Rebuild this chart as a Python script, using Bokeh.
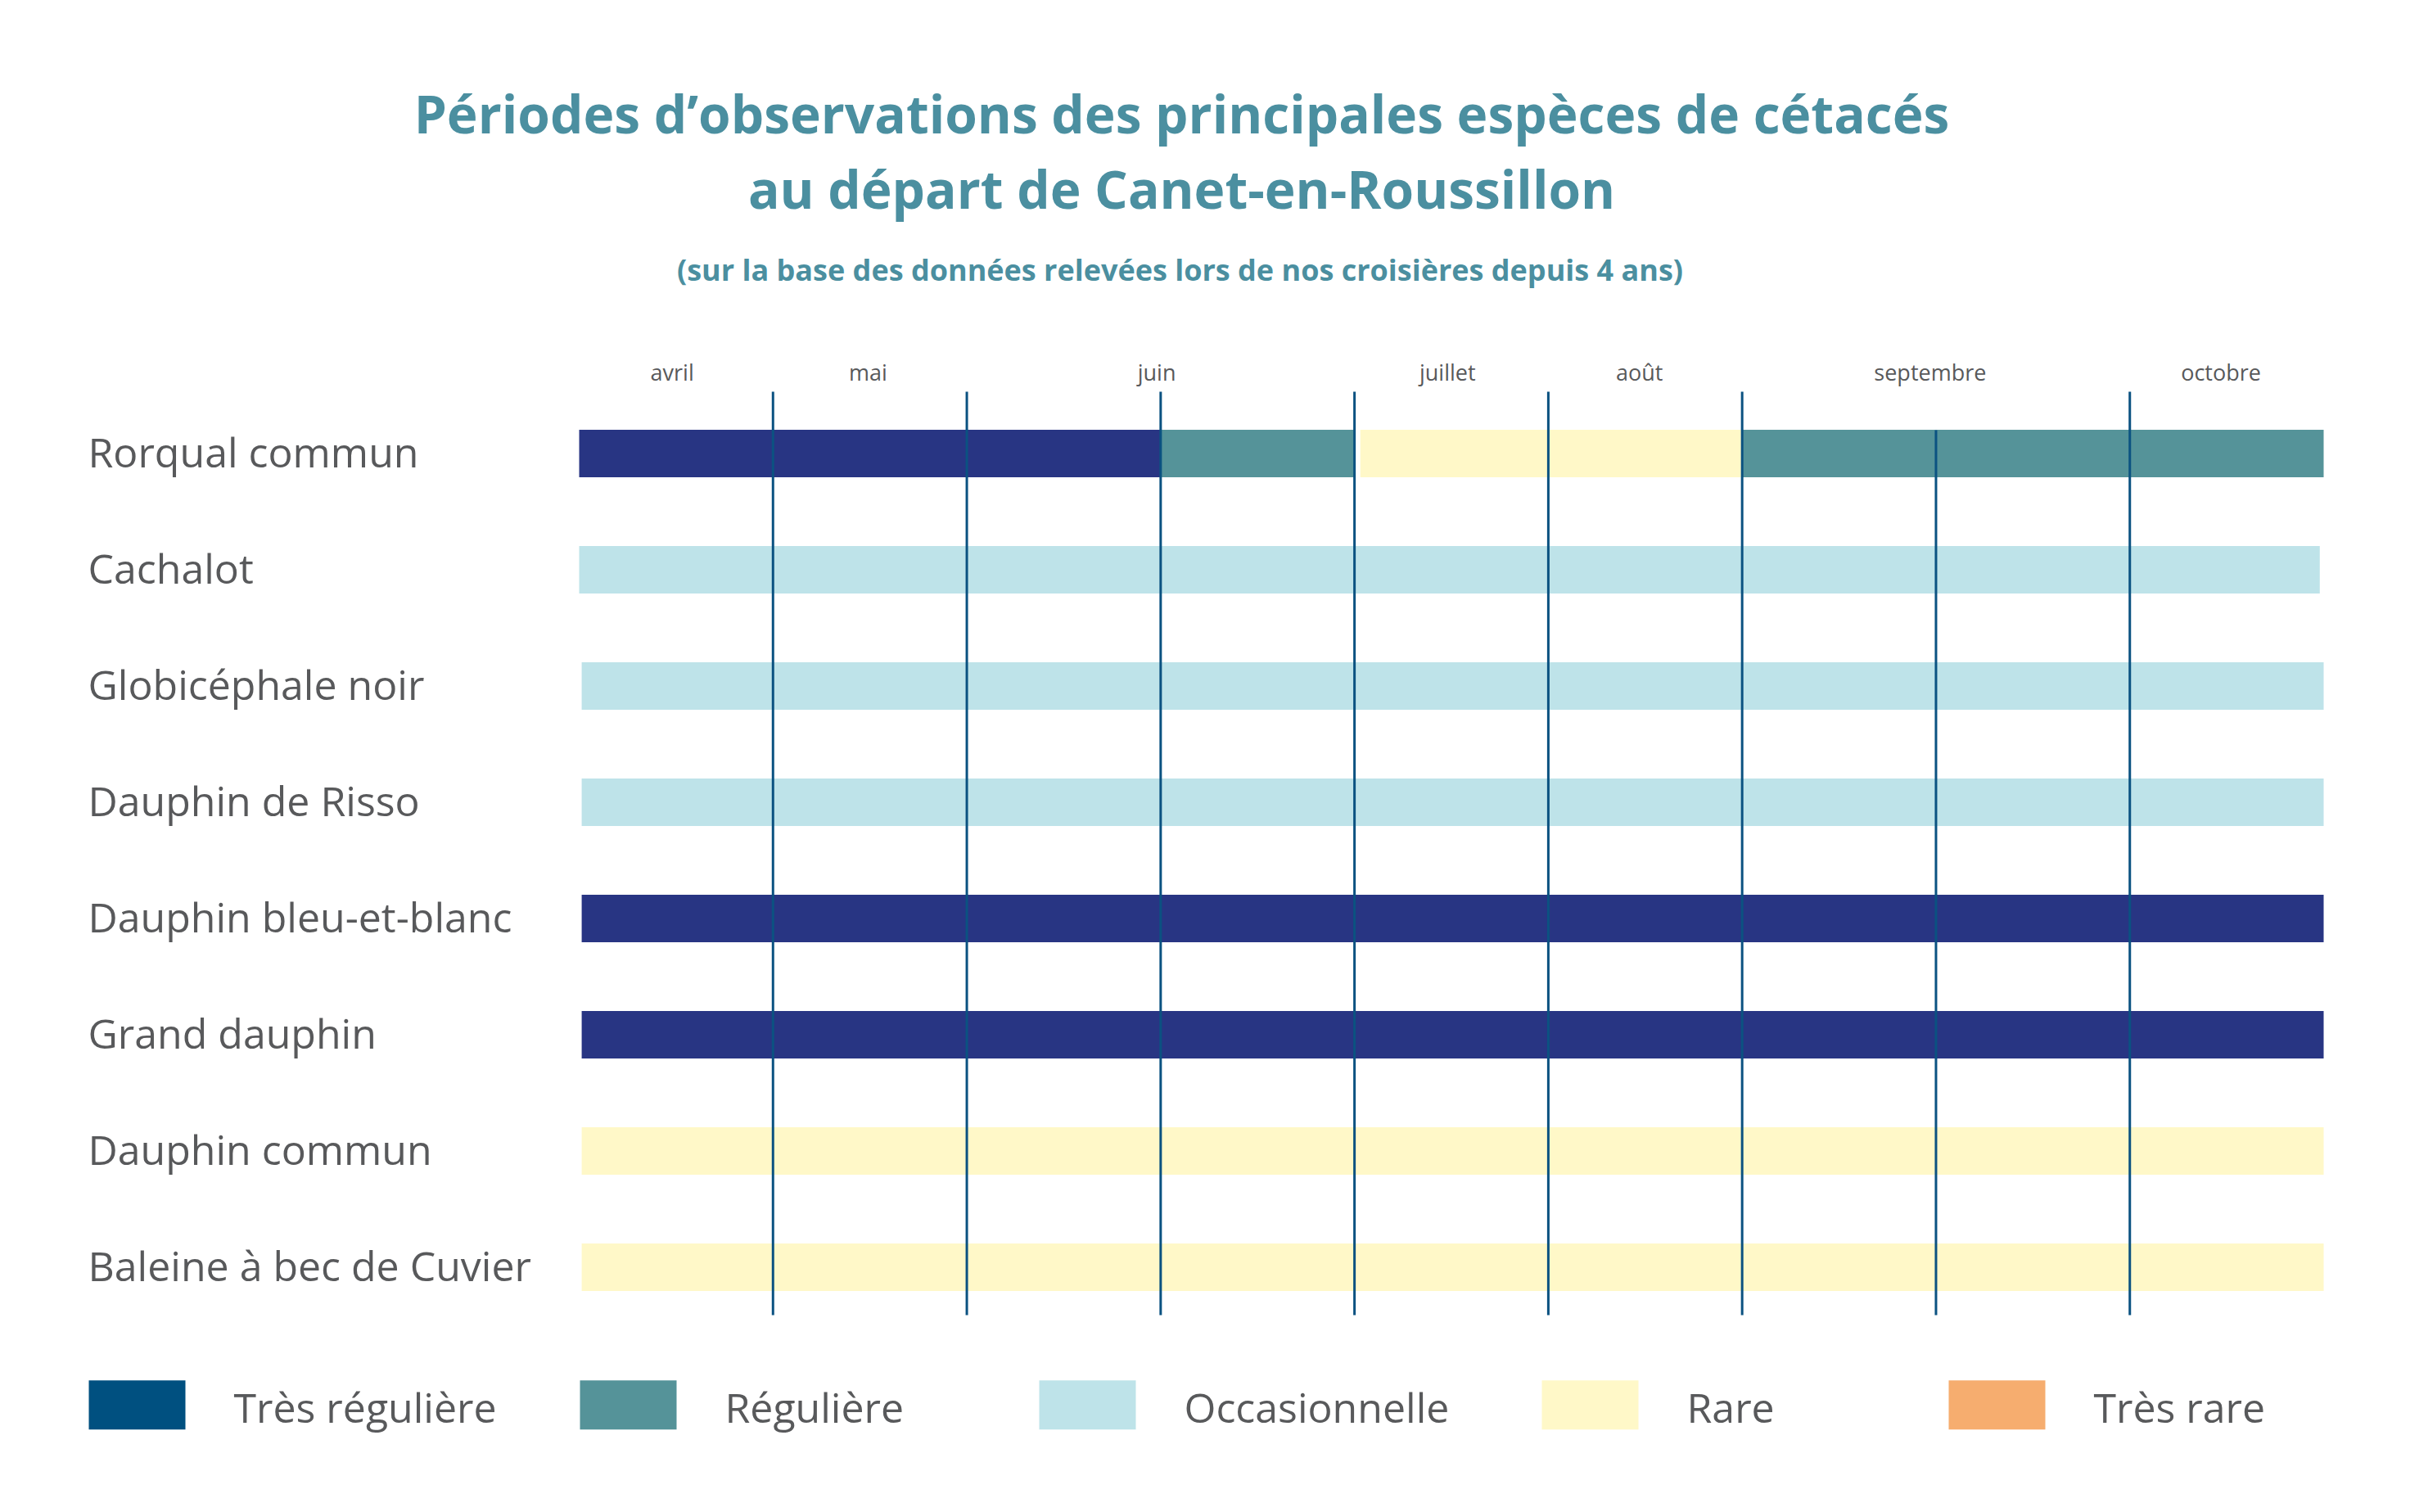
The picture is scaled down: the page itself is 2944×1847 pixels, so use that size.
from bokeh.plotting import figure
from bokeh.models import Range1d, ColumnDataSource
from bokeh.embed import file_html
from bokeh.resources import INLINE
from bokeh.core.properties import value

# ---------------- data ----------------
species = ["Rorqual commun", "Cachalot", "Globicéphale noir", "Dauphin de Risso",
           "Dauphin bleu-et-blanc", "Grand dauphin", "Dauphin commun",
           "Baleine à bec de Cuvier"]
months = ["avril", "mai", "juin", "juillet", "août", "septembre", "octobre"]
month_pos = [0.48, 1.49, 2.98, 4.48, 5.47, 6.97, 8.47]
grid_x = [1, 2, 3, 4, 5, 6, 7, 8]

seg_species = [0, 0, 0, 0, 1, 2, 3, 4, 5, 6, 7]
seg_start = [0.0, 3.0, 4.03, 6.0, 0.0, 0.013, 0.013, 0.013, 0.013, 0.013, 0.013]
seg_end = [3.0, 4.0, 6.0, 9.0, 8.98, 9.0, 9.0, 9.0, 9.0, 9.0, 9.0]
seg_cat = ["Très régulière", "Régulière", "Rare", "Régulière",
           "Occasionnelle", "Occasionnelle", "Occasionnelle",
           "Très régulière", "Très régulière", "Rare", "Rare"]

categories = ["Très régulière", "Régulière", "Occasionnelle", "Rare", "Très rare"]
bar_colors = ["#283583", "#559399", "#bee3e9", "#fff8c8", "#f6ad6f"]
legend_colors = ["#005080", "#559399", "#bee3e9", "#fff8c8", "#f6ad6f"]

title_lines = ["Périodes d’observations des principales espèces de cétacés",
               "au départ de Canet-en-Roussillon"]
subtitle = "(sur la base des données relevées lors de nos croisières depuis 4 ans)"

# ---------------- layout ----------------
W, H = 2928, 1831
UNIT = 236.78      # px per month unit
X0 = 707.0         # px of x=0 inside figure
ROW = 142.0        # px per species row
Y0 = 553.5         # px of row 0 inside figure

def xr(px):
    return (px - X0) / UNIT

def yr(px):
    return (px - Y0) / ROW

p = figure(width=W, height=H, output_backend="svg", toolbar_location=None,
           x_range=Range1d(xr(0), xr(W)), y_range=Range1d(yr(H), yr(0)),
           x_axis_location=None, y_axis_location=None, min_border=0,
           background_fill_color="white", border_fill_color="white")
p.grid.visible = False
p.outline_line_color = None

cmap = dict(zip(categories, bar_colors))
src = ColumnDataSource(dict(y=seg_species, left=seg_start, right=seg_end,
                            color=[cmap[c] for c in seg_cat]))
p.hbar(y="y", left="left", right="right", height=58 / ROW, fill_color="color",
       line_color=None, source=src)

# month separators
grid_top = [yr(478)] * 8
grid_top[6] = yr(525)
p.segment(x0=grid_x, x1=grid_x, y0=grid_top, y1=[yr(1606)] * 8,
          line_color="#0b5281", line_width=3)

GREY = "#58595b"
# month labels
p.text(x=month_pos, y=[yr(453.5)] * len(months), text=months,
       text_font=value("Open Sans"), text_font_size="27px", text_color=GREY,
       text_align="center", text_baseline="middle")

# species labels
p.text(x=[xr(107)] * len(species), y=list(range(len(species))), text=species,
       text_font=value("Open Sans"), text_font_size="50px", text_color=GREY,
       text_align="left", text_baseline="middle", y_offset=-2)

# title
p.text(x=[xr(1443)] * 2, y=[yr(138), yr(230)], text=title_lines,
       text_font=value("Open Sans"), text_font_size="64px", text_font_style="bold",
       text_color="#4b8fa0", text_align="center", text_baseline="middle")
p.text(x=[xr(1441)], y=[yr(329)], text=[subtitle],
       text_font=value("Open Sans"), text_font_size="36px", text_font_style="bold",
       text_color="#4b8fa0", text_align="center", text_baseline="middle")

# legend
leg_left = [xr(108), xr(708), xr(1269), xr(1883), xr(2380)]
sw_w = 118 / UNIT
p.rect(x=[l + sw_w / 2 for l in leg_left], y=[yr(1715.7)] * 5, width=sw_w,
       height=60 / ROW, fill_color=legend_colors, line_color=None)
p.text(x=leg_left, y=[yr(1718)] * 5, text=categories, x_offset=177,
       text_font=value("Open Sans"), text_font_size="50px", text_color=GREY,
       text_align="left", text_baseline="middle")

open("out.html", "w").write(file_html(p, INLINE))
